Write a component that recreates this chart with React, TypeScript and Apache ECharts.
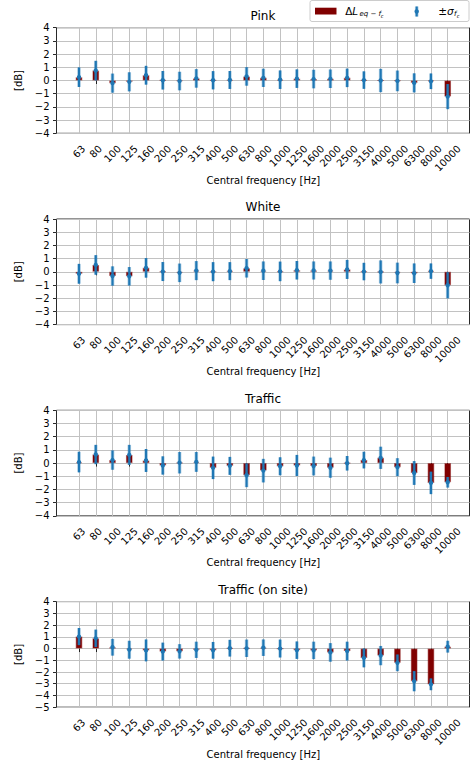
import React, { useEffect, useRef } from "react";
import * as echarts from "echarts";

const categories = ["63","80","100","125","160","200","250","315","400","500","630","800","1000","1250","1600","2000","2500","3150","4000","5000","6300","8000","10000"];

const titles = ["Pink", "White", "Traffic", "Traffic (on site)"];
const yMins = [-4, -4, -4, -5];
const yMaxs = [4, 4, 4, 4];

const pinkDelta = [0.25, 0.75, -0.2, -0.1, 0.4, 0.02, -0.04, 0.16, 0.02, 0.04, 0.31, 0.2, 0.06, 0.14, 0.11, 0.13, 0.2, 0.03, 0.0, -0.03, -0.18, -0.06, -1.22];
const pinkSigma = [0.74, 0.74, 0.72, 0.72, 0.71, 0.7, 0.7, 0.7, 0.69, 0.68, 0.7, 0.69, 0.7, 0.7, 0.7, 0.7, 0.7, 0.66, 0.88, 0.78, 0.72, 0.59, 0.95];

const whiteDelta = [-0.15, 0.52, -0.32, -0.34, 0.3, 0.02, -0.08, 0.09, 0.01, 0.05, 0.27, 0.08, 0.03, 0.12, 0.1, 0.09, 0.18, 0.02, -0.01, -0.09, -0.11, 0.05, -1.02];
const whiteSigma = [0.75, 0.74, 0.73, 0.7, 0.74, 0.72, 0.7, 0.72, 0.72, 0.68, 0.7, 0.7, 0.74, 0.7, 0.68, 0.69, 0.72, 0.66, 0.87, 0.78, 0.74, 0.58, 0.99];

const trafficDelta = [0.08, 0.65, 0.23, 0.62, 0.2, -0.18, 0.03, 0.09, -0.36, -0.21, -0.92, -0.57, -0.24, -0.18, -0.22, -0.35, -0.01, 0.23, 0.4, -0.31, -0.75, -1.5, -1.45];
const trafficSigma = [0.78, 0.73, 0.73, 0.76, 0.87, 0.69, 0.81, 0.75, 0.85, 0.68, 0.9, 0.89, 0.68, 0.8, 0.71, 0.76, 0.55, 0.63, 0.84, 0.68, 0.9, 0.85, 0.4];

const onsiteDelta = [1.02, 0.87, 0.11, -0.1, -0.16, -0.26, -0.24, -0.11, -0.15, 0.03, 0.02, 0.07, 0.0, -0.14, -0.16, -0.33, -0.22, -0.8, -0.6, -1.22, -2.78, -3.05, 0.16];
const onsiteSigma = [0.73, 0.74, 0.71, 0.76, 0.93, 0.76, 0.61, 0.69, 0.71, 0.71, 0.74, 0.7, 0.76, 0.74, 0.74, 0.79, 0.8, 0.8, 0.82, 0.71, 0.86, 0.5, 0.5];

const deltas = [pinkDelta, whiteDelta, trafficDelta, onsiteDelta];
const sigmas = [pinkSigma, whiteSigma, trafficSigma, onsiteSigma];

const FONT = "DejaVu Sans";
const BAR = "#800000";
const BLUE = "#1f77b4";
const GRIDC = "#c2c2c2";

const LEFT = 56.5;
const RIGHT_EDGE = 469.5;
const FIRST = 79;
const LAST = 447.7;
const TOP0 = 27.7;
const STEP = 191.3;
const PH = 105.6;

function fmtY(v: number) {
  return v < 0 ? "\u2212" + Math.abs(v) : String(v);
}

function buildOption() {
  const grid: any[] = [];
  const xAxis: any[] = [];
  const yAxis: any[] = [];
  const series: any[] = [];
  const graphic: any[] = [];

  for (let i = 0; i < 4; i++) {
    const top = TOP0 + i * STEP;
    const a = 2 * i;
    const b = 2 * i + 1;
    const yMin = yMins[i];
    const yMax = yMaxs[i];
    grid.push({ left: LEFT, top, width: RIGHT_EDGE - LEFT, height: PH, show: true, borderColor: "#111", borderWidth: 0.9, backgroundColor: "transparent" });
    grid.push({ left: FIRST, top, width: LAST - FIRST, height: PH, show: false });

    xAxis.push({ type: "value", gridIndex: a, min: 0, max: 1, show: false });
    yAxis.push({
      type: "value", gridIndex: a, min: yMin, max: yMax, interval: 1,
      axisLine: { show: false },
      axisTick: { show: true, length: 3.5, lineStyle: { color: "#111", width: 0.9 } },
      axisLabel: { fontSize: 10, color: "#000", margin: 7, fontFamily: FONT, formatter: fmtY },
      splitLine: { show: true, lineStyle: { color: GRIDC, width: 1 } },
      name: "[dB]", nameLocation: "middle", nameGap: 25,
      nameTextStyle: { fontSize: 10, color: "#000", fontFamily: FONT },
    });

    xAxis.push({
      type: "category", gridIndex: b, data: categories, boundaryGap: false,
      axisLine: { show: false },
      axisTick: { show: true, length: 3.5, interval: 0, lineStyle: { color: "#111", width: 0.9 } },
      axisLabel: { show: false },
      splitLine: { show: true, interval: 0, lineStyle: { color: GRIDC, width: 1 } },
      name: "Central frequency [Hz]", nameLocation: "middle", nameGap: 42,
      nameTextStyle: { fontSize: 10, color: "#000", fontFamily: FONT },
    });
    yAxis.push({ type: "value", gridIndex: b, min: yMin, max: yMax, show: false });

    series.push({
      type: "bar", xAxisIndex: b, yAxisIndex: b, data: deltas[i], barWidth: 6.7, clip: false,
      itemStyle: { color: BAR, borderColor: "rgba(128,0,0,0.45)", borderWidth: 1.2 },
      silent: true,
    });

    const errData = deltas[i].map((v, j) => [j, v, sigmas[i][j]]);
    series.push({
      type: "custom", xAxisIndex: b, yAxisIndex: b, data: errData, clip: false, z: 5, silent: true,
      encode: { x: 0, y: 1 },
      renderItem: (params: any, api: any) => {
        const x = api.value(0);
        const v = api.value(1);
        const s = api.value(2);
        const p1 = api.coord([x, v + s]);
        const p2 = api.coord([x, v - s]);
        const pc = api.coord([x, v]);
        return {
          type: "group",
          children: [
            { type: "line", shape: { x1: p1[0], y1: p1[1], x2: p2[0], y2: p2[1] }, style: { stroke: "rgba(31,119,180,0.35)", lineWidth: 3.6 } },
            { type: "line", shape: { x1: p1[0], y1: p1[1], x2: p2[0], y2: p2[1] }, style: { stroke: BLUE, lineWidth: 2.1 } },
            { type: "circle", shape: { cx: pc[0], cy: pc[1], r: 2.2 }, style: { fill: BLUE } },
          ],
        };
      },
    });

    const labData = categories.map((c, j) => [j, yMin]);
    series.push({
      type: "custom", xAxisIndex: b, yAxisIndex: b, data: labData, clip: false, silent: true,
      encode: { x: 0, y: 1 },
      renderItem: (params: any, api: any) => {
        const j = api.value(0);
        const p = api.coord([j, yMin]);
        const txt = categories[params.dataIndex];
        const w = txt.length * 6.36;
        const off = 11 + (w + 7.5) * 0.3536;
        return {
          type: "text", x: p[0], y: p[1] + off, rotation: Math.PI / 4,
          style: { text: txt, fontSize: 10, fontFamily: FONT, fill: "#000", align: "center", verticalAlign: "middle" },
        };
      },
    });

    graphic.push({
      type: "text", x: (LEFT + RIGHT_EDGE) / 2, y: top - 11.7,
      style: { text: titles[i], fontSize: 12, fontFamily: FONT, fill: "#000", align: "center", verticalAlign: "middle" },
    });
  }

  // legend
  graphic.push({ type: "rect", shape: { x: 310, y: 0.5, width: 159, height: 21, r: 2 }, style: { fill: "#fff", stroke: "#cccccc", lineWidth: 1 }, z: 10 });
  graphic.push({ type: "rect", shape: { x: 315, y: 7.7, width: 21.5, height: 6.8 }, style: { fill: BAR }, z: 11 });
  graphic.push({ type: "text", x: 345.3, y: 11, style: { text: "\u0394", fontSize: 10.5, fontFamily: FONT, fill: "#000", verticalAlign: "middle" }, z: 11 });
  graphic.push({ type: "text", x: 352.3, y: 11, style: { text: "L", fontSize: 10.5, fontStyle: "italic", fontFamily: FONT, fill: "#000", verticalAlign: "middle" }, z: 11 });
  graphic.push({ type: "text", x: 359.5, y: 13.6, style: { text: "eq \u2212 f", fontSize: 7, fontStyle: "italic", fontFamily: FONT, fill: "#000", verticalAlign: "middle" }, z: 11 });
  graphic.push({ type: "text", x: 380.8, y: 16, style: { text: "c", fontSize: 5, fontStyle: "italic", fontFamily: FONT, fill: "#000", verticalAlign: "middle" }, z: 11 });
  graphic.push({ type: "line", shape: { x1: 416.7, y1: 6.5, x2: 416.7, y2: 16.5 }, style: { stroke: "rgba(31,119,180,0.35)", lineWidth: 3.6 }, z: 11 });
  graphic.push({ type: "line", shape: { x1: 416.7, y1: 6.5, x2: 416.7, y2: 16.5 }, style: { stroke: BLUE, lineWidth: 2.1 }, z: 12 });
  graphic.push({ type: "circle", shape: { cx: 416.7, cy: 11.5, r: 2.2 }, style: { fill: BLUE }, z: 12 });
  graphic.push({ type: "text", x: 438.2, y: 11, style: { text: "\u00b1", fontSize: 10.5, fontFamily: FONT, fill: "#000", verticalAlign: "middle" }, z: 11 });
  graphic.push({ type: "text", x: 447, y: 11, style: { text: "\u03c3", fontSize: 10.5, fontStyle: "italic", fontFamily: FONT, fill: "#000", verticalAlign: "middle" }, z: 11 });
  graphic.push({ type: "text", x: 454, y: 13.6, style: { text: "f", fontSize: 7, fontStyle: "italic", fontFamily: FONT, fill: "#000", verticalAlign: "middle" }, z: 11 });
  graphic.push({ type: "text", x: 456.8, y: 16, style: { text: "c", fontSize: 5, fontStyle: "italic", fontFamily: FONT, fill: "#000", verticalAlign: "middle" }, z: 11 });

  return {
    animation: false,
    backgroundColor: "#ffffff",
    textStyle: { fontFamily: FONT },
    grid, xAxis, yAxis, series, graphic,
  };
}

export default function App() {
  const ref = useRef<HTMLDivElement>(null);
  useEffect(() => {
    if (!ref.current) return;
    const chart = echarts.init(ref.current, undefined, { renderer: "svg" });
    chart.setOption(buildOption() as any);
    return () => chart.dispose();
  }, []);
  return <div ref={ref} style={{ position: "fixed", left: 0, top: 0, width: 471, height: 765, background: "#fff" }} />;
}
